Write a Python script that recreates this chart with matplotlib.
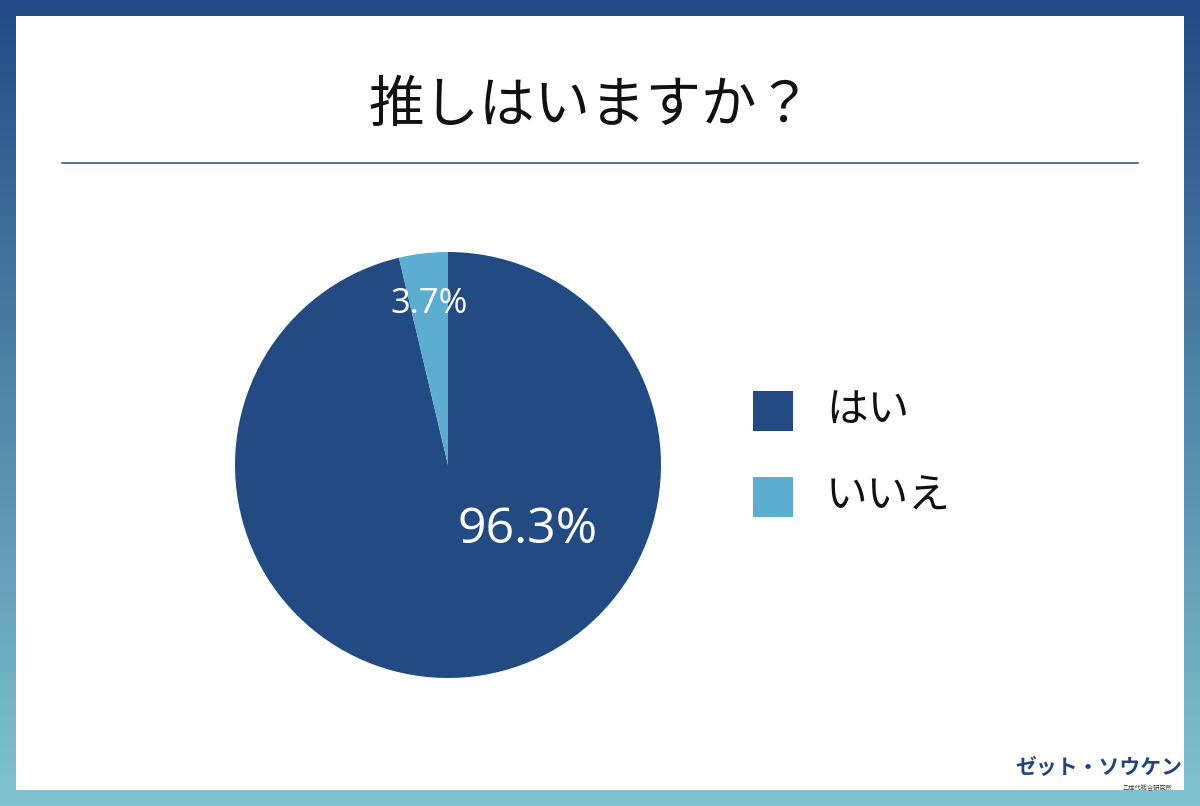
import matplotlib.pyplot as plt
import numpy as np
from matplotlib.patches import Rectangle
from matplotlib.colors import LinearSegmentedColormap

plt.rcParams['font.family'] = ['Noto Sans CJK JP', 'DejaVu Sans']

# データ
title = '推しはいますか？'
labels = ['はい', 'いいえ']
values = [96.3, 3.7]
colors = ['#224b84', '#5baecf']

W, H = 1200, 806
fig = plt.figure(figsize=(W / 100, H / 100), dpi=100)

# 背景: グラデーション枠 + 白い面
bg = fig.add_axes([0, 0, 1, 1])
grad = np.linspace(0, 1, 256).reshape(-1, 1)
cmap = LinearSegmentedColormap.from_list('frame', ['#224b85', '#80c4d0'])
bg.imshow(grad, cmap=cmap, aspect='auto', extent=[0, W, H, 0])
bg.add_patch(Rectangle((16, 16), W - 32, H - 32, facecolor='white', edgecolor='none'))
bg.set_xlim(0, W)
bg.set_ylim(H, 0)
bg.axis('off')

# タイトルと区切り線
bg.text(591, 106, title, fontsize=40, ha='center', va='center', color='#111111')
bg.plot([62, 1138], [163, 163], color='#224b84', lw=1.1)

# 円グラフ
cx, cy, r = 448, 465, 213
ax = fig.add_axes([(cx - r) / W, (H - cy - r) / H, 2 * r / W, 2 * r / H])
wedges, _ = ax.pie(values, colors=colors, startangle=90, counterclock=False,
                   wedgeprops=dict(linewidth=0))
ax.set_xlim(-1, 1)
ax.set_ylim(-1, 1)
ax.set_aspect('equal')

num_font = ['Open Sans', 'DejaVu Sans']
# 小さいスライスのラベル (スライス中央)
w = wedges[1]
ang = np.deg2rad((w.theta1 + w.theta2) / 2)
ax.text(0.76 * np.cos(ang), 0.76 * np.sin(ang), f'{values[1]}%', fontsize=25,
        ha='center', va='center', color='white', family=num_font)
# 大きいスライスのラベル
ax.text(0.375, -0.305, f'{values[0]}%', fontsize=36, ha='center', va='center',
        color='white', family=num_font)

# 凡例
for i, (lab, col) in enumerate(zip(labels, colors)):
    y = 411 + i * 86
    bg.add_patch(Rectangle((753, y - 20), 40, 40, facecolor=col, edgecolor='none'))
    bg.text(826, y, lab, fontsize=30, ha='left', va='center', color='#111111')

# ロゴ
bg.text(1099, 768, 'ゼット・ソウケン', fontsize=15, fontweight='bold', style='italic',
        ha='center', va='center', color='#1f467c')
bg.text(1147, 787, '乙世代総合研究所', fontsize=4.5, ha='center', va='center', color='#333333')

fig.savefig('out.png', dpi=100)
